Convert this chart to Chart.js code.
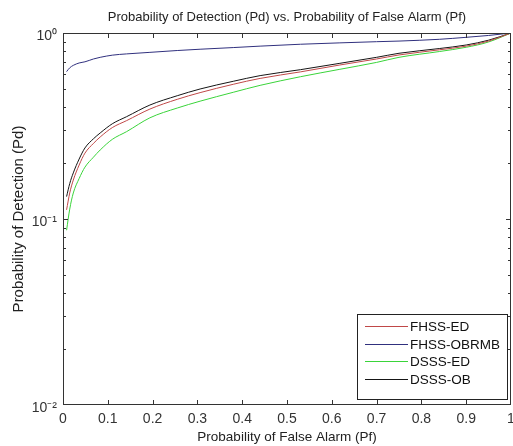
<!DOCTYPE html>
<html>
<head>
<meta charset="utf-8">
<script src="https://cdn.jsdelivr.net/npm/chart.js@4.4.1/dist/chart.umd.min.js"></script>
<style>
  html, body { margin: 0; padding: 0; background: #fff; }
  #wrap { width: 513px; height: 446px; }
</style>
</head>
<body>
<div id="wrap"><canvas id="pd-canvas" width="513" height="446"></canvas></div>
<script>
// ── data ────────────────────────────────────────────
const pf = [0.008, 0.015, 0.023, 0.036, 0.049, 0.068, 0.083, 0.11, 0.142, 0.194, 0.255,
            0.306, 0.38, 0.44, 0.53, 0.618, 0.7, 0.75, 0.84, 0.9, 0.95, 1.0];
const fhssEd    = [0.112, 0.138, 0.162, 0.195, 0.226, 0.255, 0.276, 0.31, 0.338, 0.39, 0.44,
                   0.478, 0.53, 0.57, 0.618, 0.673, 0.725, 0.762, 0.812, 0.85, 0.905, 1.0];
const fhssObrmb = [0.62, 0.65, 0.67, 0.69, 0.70, 0.725, 0.74, 0.76, 0.772, 0.787, 0.805,
                   0.818, 0.835, 0.85, 0.87, 0.885, 0.898, 0.905, 0.925, 0.948, 0.97, 1.0];
const dsssEd    = [0.087, 0.113, 0.138, 0.165, 0.19, 0.215, 0.235, 0.268, 0.295, 0.35, 0.395,
                   0.43, 0.48, 0.523, 0.582, 0.638, 0.695, 0.74, 0.795, 0.838, 0.895, 1.0];
const dsssOb    = [0.132, 0.155, 0.177, 0.21, 0.241, 0.27, 0.29, 0.325, 0.355, 0.41, 0.46,
                   0.50, 0.55, 0.59, 0.635, 0.687, 0.74, 0.778, 0.825, 0.862, 0.915, 1.0];

const seriesNames = ['FHSS-ED', 'FHSS-OBRMB', 'DSSS-ED', 'DSSS-OB'];
const xTicks = [0, 0.1, 0.2, 0.3, 0.4, 0.5, 0.6, 0.7, 0.8, 0.9, 1];
const yTicks = [0.01, 0.1, 1];
const yTickLabels = ['10⁻²', '10⁻¹', '10⁰'];
const yMinorTicks = [0.02, 0.03, 0.04, 0.05, 0.06, 0.07, 0.08, 0.09,
                     0.2, 0.3, 0.4, 0.5, 0.6, 0.7, 0.8, 0.9];

const FONT = 'Liberation Sans, Arial, Helvetica, sans-serif';
const AXIS_COLOR = '#333';

const toPoints = arr => pf.map((x, i) => ({ x, y: arr[i] }));

// ── matlab 风格坐标框、内向刻度、图例 ─────────────────
const matlabAxes = {
    id: 'matlabAxes',
    afterDraw(chart) {
        const { ctx, chartArea: a, scales: { x, y } } = chart;
        ctx.save();
        ctx.strokeStyle = AXIS_COLOR;
        ctx.lineWidth = 1;
        ctx.strokeRect(a.left + 0.5, a.top + 0.5, a.right - a.left - 1, a.bottom - a.top - 1);

        ctx.beginPath();
        xTicks.slice(1, -1).forEach(v => {
            const px = Math.round(x.getPixelForValue(v)) + 0.5;
            ctx.moveTo(px, a.bottom); ctx.lineTo(px, a.bottom - 5);
            ctx.moveTo(px, a.top);    ctx.lineTo(px, a.top + 5);
        });
        yTicks.slice(1, -1).forEach(v => {
            const py = Math.round(y.getPixelForValue(v)) + 0.5;
            ctx.moveTo(a.left, py);  ctx.lineTo(a.left + 5, py);
            ctx.moveTo(a.right, py); ctx.lineTo(a.right - 5, py);
        });
        yMinorTicks.forEach(v => {
            const py = Math.round(y.getPixelForValue(v)) + 0.5;
            ctx.moveTo(a.left, py);  ctx.lineTo(a.left + 3, py);
            ctx.moveTo(a.right, py); ctx.lineTo(a.right - 3, py);
        });
        ctx.stroke();

        // 图例（放在右下角）
        const box = { left: 357, top: 314, right: 507, bottom: 399 };
        ctx.fillStyle = '#fff';
        ctx.fillRect(box.left, box.top, box.right - box.left, box.bottom - box.top);
        ctx.strokeStyle = '#222';
        ctx.strokeRect(box.left + 0.5, box.top + 0.5, box.right - box.left, box.bottom - box.top);
        ctx.font = '13.5px ' + FONT;
        ctx.textBaseline = 'middle';
        chart.data.datasets.forEach((ds, i) => {
            const cy = Math.round(box.top + 12 + i * 17.5) + 0.5;
            ctx.strokeStyle = ds.borderColor;
            ctx.beginPath();
            ctx.moveTo(box.left + 8, cy);
            ctx.lineTo(box.left + 51, cy);
            ctx.stroke();
            ctx.fillStyle = '#111';
            ctx.fillText(ds.label, box.left + 53, cy + 1);
        });
        ctx.restore();
    }
};

const colors = ['#c04848', '#30307e', '#3ad43a', '#151515'];
const seriesData = [fhssEd, fhssObrmb, dsssEd, dsssOb];

new Chart(document.getElementById('pd-canvas').getContext('2d'), {
    type: 'line',
    data: {
        datasets: seriesData.map((arr, i) => ({
            label: seriesNames[i],
            data: toPoints(arr),
            borderColor: colors[i],
            borderWidth: 1,
            pointRadius: 0,
            cubicInterpolationMode: 'monotone',
            fill: false,
        }))
    },
    options: {
        responsive: false,
        animation: false,
        events: [],
        layout: { padding: { right: 2, left: 0, top: 0, bottom: 0 } },
        plugins: {
            legend: { display: false },
            tooltip: { enabled: false },
            title: {
                display: true,
                fullSize: false,
                text: 'Probability of Detection (Pd) vs. Probability of False Alarm (Pf)',
                color: '#222',
                font: { family: FONT, size: 13, weight: 'normal' },
                padding: { top: 10, bottom: 7.4 },
            },
        },
        scales: {
            x: {
                type: 'linear',
                min: 0, max: 1,
                grid: { display: false, drawTicks: false },
                border: { display: false },
                afterBuildTicks: s => { s.ticks = xTicks.map(v => ({ value: v })); },
                afterFit: s => { s.height = 41; s.paddingLeft = 0; s.paddingRight = 0; },
                ticks: {
                    color: AXIS_COLOR,
                    padding: 6,
                    maxRotation: 0,
                    autoSkip: false,
                    font: { family: FONT, size: 14 },
                    callback: v => String(Math.round(v * 10) / 10),
                },
                title: {
                    display: true,
                    text: 'Probability of False Alarm (Pf)',
                    color: '#222',
                    font: { family: FONT, size: 13.5 },
                    padding: { top: 0, bottom: 1 },
                },
            },
            y: {
                type: 'logarithmic',
                min: 0.01, max: 1,
                grid: { display: false, drawTicks: false },
                border: { display: false },
                afterBuildTicks: s => { s.ticks = yTicks.map(v => ({ value: v })); },
                afterFit: s => { s.width = 63; s.paddingTop = 0; s.paddingBottom = 0; },
                ticks: {
                    color: AXIS_COLOR,
                    padding: 6,
                    labelOffset: 3,
                    autoSkip: false,
                    font: { family: FONT, size: 14 },
                    callback: v => yTickLabels[yTicks.indexOf(v)] ?? '',
                },
                title: {
                    display: true,
                    text: 'Probability of Detection (Pd)',
                    color: '#222',
                    font: { family: FONT, size: 15 },
                    padding: { top: 10, bottom: 0 },
                },
            },
        },
    },
    plugins: [matlabAxes],
});
</script>
</body>
</html>
